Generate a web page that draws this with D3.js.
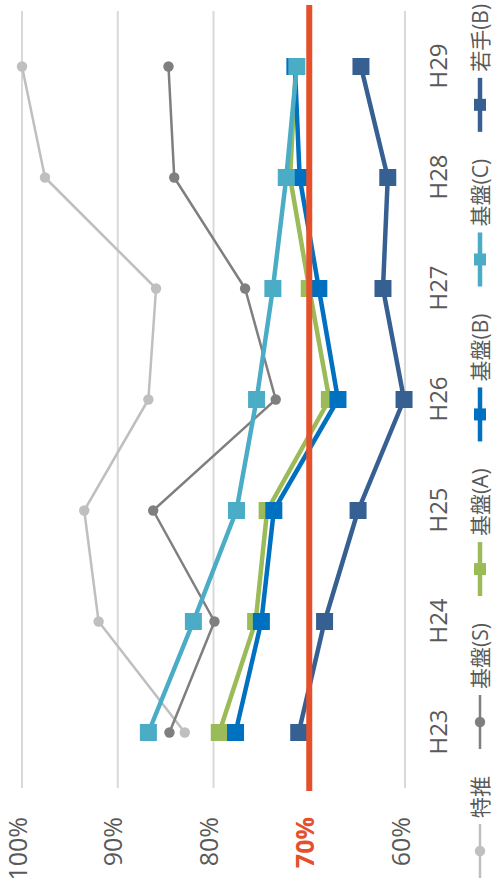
<!DOCTYPE html>
<html>
<head>
<meta charset="utf-8">
<script src="https://cdn.jsdelivr.net/npm/d3@7"></script>
<style>
  html, body { margin: 0; padding: 0; background: #fff; }
  svg { display: block; }
  text { font-family: "Open Sans", "Noto Sans CJK JP", sans-serif; fill: #595959; }
</style>
</head>
<body>
<svg id="chart" width="493" height="892"></svg>
<script>
// Fiscal years (Heisei era)
const categories = ["H23", "H24", "H25", "H26", "H27", "H28", "H29"];

// Rates per program (%)
const tokusui = [83.0, 92.0, 93.5, 86.8, 86.0, 97.6, 100.0];
const kibanS  = [84.6, 79.9, 86.3, 73.5, 76.7, 84.1, 84.7];
const kibanA  = [79.4, 75.6, 74.4, 67.9, 70.0, 72.0, 71.4];
const kibanB  = [77.7, 75.0, 73.7, 67.0, 69.0, 71.0, 71.5];
const kibanC  = [86.8, 82.1, 77.6, 75.5, 73.8, 72.4, 71.3];
const wakateB = [71.1, 68.4, 64.9, 60.1, 62.3, 61.8, 64.6];

const seriesNames = ["特推", "基盤(S)", "基盤(A)", "基盤(B)", "基盤(C)", "若手(B)"];
const seriesValues = [tokusui, kibanS, kibanA, kibanB, kibanC, wakateB];

// Value axis ticks and the 70% reference level
const valueTicks = [60, 70, 80, 90, 100];
const tickLabels = ["60%", "70%", "80%", "90%", "100%"];
const targetLevel = 70;

const seriesStyle = [
  { color: "#BFBFBF", width: 2.5, marker: "circle" },
  { color: "#7F7F7F", width: 2.5, marker: "circle" },
  { color: "#9BBB59", width: 4.5, marker: "square" },
  { color: "#0070C0", width: 4.5, marker: "square" },
  { color: "#4BACC6", width: 4.5, marker: "square" },
  { color: "#376092", width: 4.5, marker: "square" }
];
const targetColor = "#E5502A";

// The chart is laid out in an 892 x 493 frame and turned a quarter turn
const W = 892, H = 493;
const svg = d3.select("#chart");
const g = svg.append("g").attr("transform", `translate(0,${W}) rotate(-90)`);

const plot = { left: 104, right: 881, top: 22, bottom: 405 };

const x = d3.scalePoint().domain(categories).range([plot.left, plot.right]).padding(0.5);
const y = d3.scaleLinear().domain([60, 100]).range([plot.bottom, plot.top]);

// Gridlines
g.append("g").selectAll("line").data(valueTicks).join("line")
  .attr("x1", plot.left).attr("x2", plot.right)
  .attr("y1", d => y(d)).attr("y2", d => y(d))
  .attr("stroke", "#D9D9D9").attr("stroke-width", 2);

// Value axis labels
const yAxis = d3.axisLeft(y).tickValues(valueTicks)
  .tickFormat((d, i) => tickLabels[i]).tickSize(0).tickPadding(0);
const ya = g.append("g").attr("transform", "translate(75,-4)").call(yAxis);
ya.select(".domain").remove();
ya.selectAll("text")
  .style("font-size", "25px")
  .style("fill", d => d === targetLevel ? targetColor : "#595959")
  .style("font-weight", d => d === targetLevel ? "bold" : "normal");

// Category axis labels
const xAxis = d3.axisBottom(x).tickSize(0).tickPadding(0);
const xa = g.append("g").attr("transform", "translate(0,430)").call(xAxis);
xa.select(".domain").remove();
xa.selectAll("text").style("font-size", "24px").attr("dy", "0.71em");

// Series lines and markers
const line = d3.line().x((d, i) => x(categories[i])).y(d => y(d));
const sq = 17, cr = 5.2;

seriesValues.forEach((vals, si) => {
  const st = seriesStyle[si];
  const sg = g.append("g");
  sg.append("path").datum(vals)
    .attr("d", line).attr("fill", "none")
    .attr("stroke", st.color).attr("stroke-width", st.width)
    .attr("stroke-linejoin", "round");
  if (st.marker === "circle") {
    sg.selectAll("circle").data(vals).join("circle")
      .attr("cx", (d, i) => x(categories[i])).attr("cy", d => y(d))
      .attr("r", cr).attr("fill", st.color);
  } else {
    sg.selectAll("rect").data(vals).join("rect")
      .attr("x", (d, i) => x(categories[i]) - sq / 2).attr("y", d => y(d) - sq / 2)
      .attr("width", sq).attr("height", sq).attr("fill", st.color);
  }
});

// 70% reference line
g.append("line")
  .attr("x1", plot.left - 3).attr("x2", plot.right + 6)
  .attr("y1", y(targetLevel)).attr("y2", y(targetLevel))
  .attr("stroke", targetColor).attr("stroke-width", 6);

// Legend
const legendY = 480, lineLen = 54;
const lg = g.append("g");
let cx = 14;
seriesNames.forEach((name, si) => {
  const st = seriesStyle[si];
  const item = lg.append("g").attr("transform", `translate(${cx},${legendY})`);
  item.append("line").attr("x1", 0).attr("x2", lineLen)
    .attr("stroke", st.color).attr("stroke-width", st.width);
  if (st.marker === "circle") {
    item.append("circle").attr("cx", lineLen / 2).attr("r", cr).attr("fill", st.color);
  } else {
    item.append("rect").attr("x", lineLen / 2 - 6).attr("y", -6)
      .attr("width", 12).attr("height", 12).attr("fill", st.color);
  }
  const t = item.append("text").attr("x", lineLen + 6).attr("dy", "0.36em")
    .style("font-size", "21px").text(name);
  cx += lineLen + 6 + t.node().getComputedTextLength() + 27;
});
</script>
</body>
</html>
